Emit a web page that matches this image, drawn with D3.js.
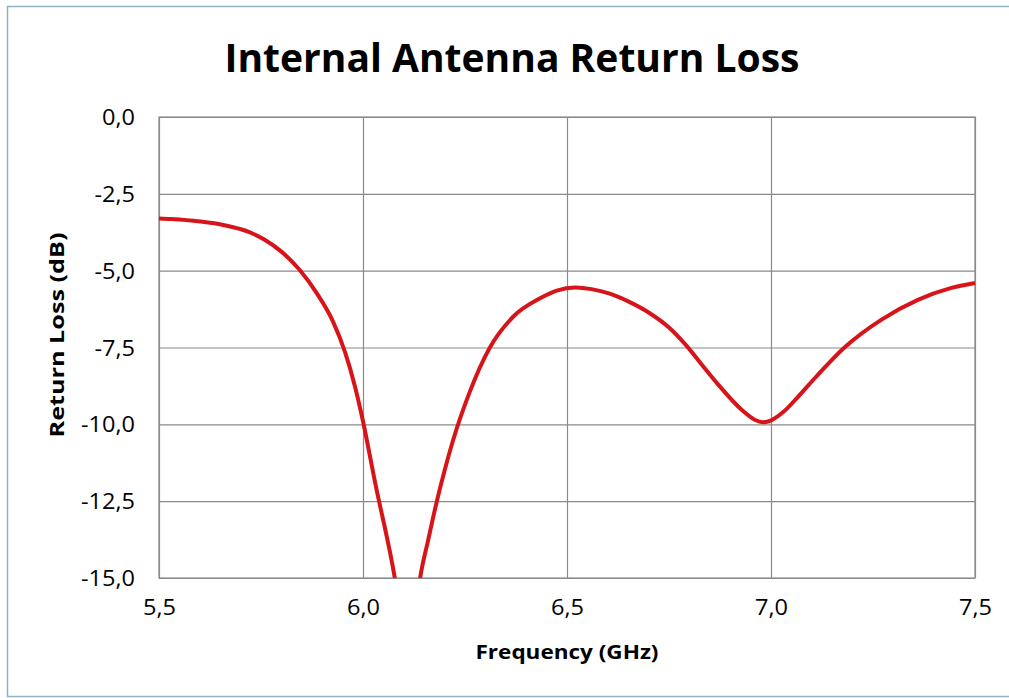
<!DOCTYPE html>
<html><head><meta charset="utf-8">
<script src="https://cdn.jsdelivr.net/npm/d3@7"></script>
<style>
html,body{margin:0;padding:0;background:#fff;}
svg{display:block;}
text{font-family:"Open Sans","Liberation Sans",sans-serif;fill:#000;}
</style></head>
<body>
<svg id="chart" width="1009" height="698"></svg>
<script>
// ---- data ----
const title = "Internal Antenna Return Loss";
const xTitle = "Frequency (GHz)";
const yTitle = "Return Loss (dB)";
const freq = [5.50,5.53,5.60,5.66,5.72,5.76,5.80,5.845,5.887,5.926,5.956,5.98,6.00,6.029,6.078,6.095,6.11,6.125,6.14,6.16,6.181,6.20,6.22,6.26,6.311,6.368,6.434,6.475,6.52,6.56,6.605,6.65,6.70,6.75,6.79,6.83,6.867,6.93,6.96,6.98,6.995,7.03,7.07,7.11,7.18,7.27,7.36,7.44,7.50];
const returnLoss = [-3.30,-3.32,-3.40,-3.52,-3.74,-4.00,-4.38,-4.98,-5.74,-6.64,-7.65,-8.75,-9.90,-11.85,-15.0,-16.4,-17.0,-16.5,-15.0,-13.75,-12.5,-11.5,-10.55,-9.0,-7.5,-6.5,-5.9,-5.65,-5.55,-5.60,-5.75,-6.0,-6.36,-6.85,-7.4,-8.05,-8.65,-9.55,-9.85,-9.93,-9.9,-9.6,-9.05,-8.46,-7.5,-6.6,-5.95,-5.57,-5.40];
const xTicks = [5.5,6.0,6.5,7.0,7.5];
const yTicks = [0,-2.5,-5,-7.5,-10,-12.5,-15];

// ---- layout ----
const svg = d3.select("#chart");
const L = 159, R = 975, T = 117, B = 578;
const x = d3.scaleLinear().domain([5.5,7.5]).range([L,R]);
const y = d3.scaleLinear().domain([0,-15]).range([T,B]);
const fmt = d3.formatLocale({decimal:",",thousands:".",grouping:[3],currency:["",""],minus:"-"}).format(".1f");

// outer border
svg.append("rect").attr("x",7.5).attr("y",6.5).attr("width",1010).attr("height",690)
  .attr("fill","#fff").attr("stroke","#8fb2c2").attr("stroke-width",1.5);

// title
svg.append("text").attr("x",512).attr("y",72).attr("text-anchor","middle")
  .attr("font-size",40).attr("font-weight",700)
  .attr("textLength",575).attr("lengthAdjust","spacingAndGlyphs").text(title);

// gridlines via axes
const gx = svg.append("g").attr("transform",`translate(0,${B})`)
  .call(d3.axisBottom(x).tickValues(xTicks).tickSize(-(B-T)).tickFormat(fmt).tickPadding(16));
const gy = svg.append("g").attr("transform",`translate(${L},0)`)
  .call(d3.axisLeft(y).tickValues(yTicks).tickSize(-(R-L)).tickFormat(fmt).tickPadding(22));
[gx,gy].forEach(g=>{
  g.select(".domain").remove();
  g.selectAll(".tick line").attr("stroke","#8a8a8a").attr("stroke-width",1.2);
  g.selectAll(".tick text").attr("font-size",21).attr("fill","#000")
    .style("font-family",'"Open Sans","Liberation Sans",sans-serif');
});
gx.selectAll(".tick text").attr("dy","0.71em").attr("y",22);
gy.selectAll(".tick text").attr("x",-24).attr("dy","0.36em");
// stretch tick labels slightly
svg.selectAll(".tick text").each(function(){
  const w = this.getComputedTextLength();
  d3.select(this).attr("textLength",w*1.12).attr("lengthAdjust","spacingAndGlyphs");
});

// plot frame
svg.append("rect").attr("x",L).attr("y",T).attr("width",R-L).attr("height",B-T)
  .attr("fill","none").attr("stroke","#8a8a8a").attr("stroke-width",1.2);

// clip
svg.append("clipPath").attr("id","clip").append("rect")
  .attr("x",L-4).attr("y",T-4).attr("width",R-L+8).attr("height",B-T+4);

const data = freq.map((f,i)=>({f, v:returnLoss[i]}));
svg.append("path").datum(data).attr("clip-path","url(#clip)")
  .attr("fill","none").attr("stroke","#d7141a").attr("stroke-width",4)
  .attr("stroke-linejoin","round")
  .attr("d", d3.line().x(d=>x(d.f)).y(d=>y(d.v)).curve(d3.curveMonotoneX));

// axis titles
svg.append("text").attr("x",(L+R)/2).attr("y",659).attr("text-anchor","middle")
  .attr("font-size",20).attr("font-weight",700)
  .attr("textLength",183).attr("lengthAdjust","spacingAndGlyphs").text(xTitle);
svg.append("text").attr("transform","translate(64,335) rotate(-90)").attr("text-anchor","middle")
  .attr("font-size",20).attr("font-weight",700)
  .attr("textLength",205).attr("lengthAdjust","spacingAndGlyphs").text(yTitle);
</script>
</body></html>
